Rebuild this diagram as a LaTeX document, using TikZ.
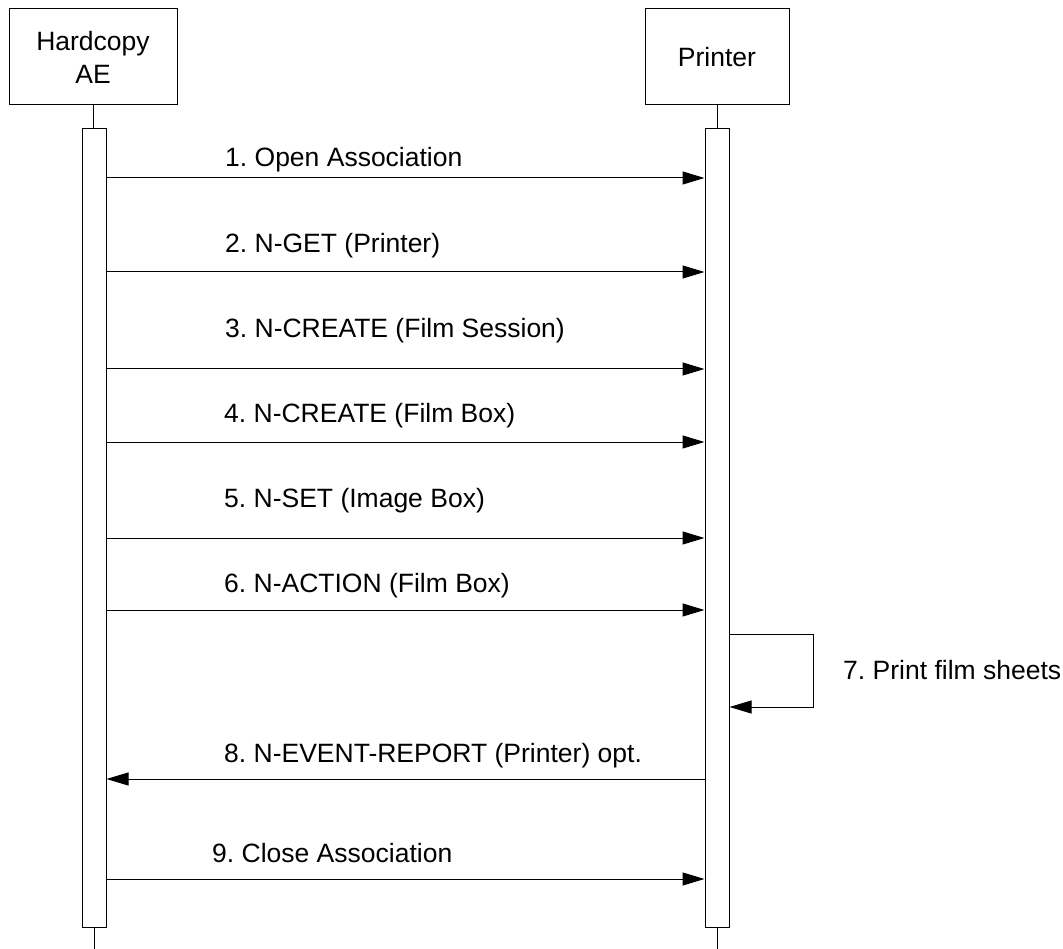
\documentclass[tikz,border=0pt]{standalone}
\usepackage{fontspec}
\setmainfont{Liberation Sans}
\usetikzlibrary{arrows.meta}
\frenchspacing
\begin{document}
\begin{tikzpicture}[x=1pt,y=-1pt,
  every node/.style={font=\fontsize{26.5}{33}\selectfont\frenchspacing},
  actor/.style={draw=black,line width=1pt,minimum height=96pt,inner sep=0pt,align=center},
  bar/.style={draw=black,line width=1pt,minimum width=24pt,minimum height=798pt,inner sep=0pt,fill=white},
  life/.style={draw=black,line width=1pt},
  msg/.style={draw=black,line width=1pt,-{Triangle[length=22pt,width=13pt]}},
  lbl/.style={anchor=base west,inner sep=0pt}]
\useasboundingbox (0,0) rectangle (1063,949);
% actors
\node[actor,minimum width=168pt] (hc) at (93,57) {Hardcopy\\AE};
\node[actor,minimum width=144pt] (pr) at (717,57) {Printer};
% activation bars
\node[bar] (barA) at (94,528) {};
\node[bar] (barB) at (717,528) {};
% lifelines
\coordinate (bot) at (0,949);
\draw[life] (hc.south) -- (barA.north -| hc.south);
\draw[life] (pr.south) -- (barB.north -| pr.south);
\draw[life] (barA.south) -- (barA.south |- bot);
\draw[life] (barB.south) -- (barB.south |- bot);
% message y levels
\coordinate (y1) at (0,178);
\coordinate (y2) at (0,272);
\coordinate (y3) at (0,369);
\coordinate (y4) at (0,442);
\coordinate (y5) at (0,538);
\coordinate (y6) at (0,610);
\coordinate (y7a) at (0,634);
\coordinate (y7b) at (0,707);
\coordinate (y8) at (0,779);
\coordinate (y9) at (0,879);
\coordinate (loopx) at (813,0);
% messages
\draw[msg] (barA.east |- y1) -- (barB.west |- y1);
\draw[msg] (barA.east |- y2) -- (barB.west |- y2);
\draw[msg] (barA.east |- y3) -- (barB.west |- y3);
\draw[msg] (barA.east |- y4) -- (barB.west |- y4);
\draw[msg] (barA.east |- y5) -- (barB.west |- y5);
\draw[msg] (barA.east |- y6) -- (barB.west |- y6);
\draw[msg] (barB.east |- y7a) -- (loopx |- y7a) -- (loopx |- y7b) -- (barB.east |- y7b);
\draw[msg] (barB.west |- y8) -- (barA.east |- y8);
\draw[msg] (barA.east |- y9) -- (barB.west |- y9);
% labels
\node[lbl] (l1) at (225,167) {1. Open Association};
\node[lbl] (l2) at (225,253) {2. N-GET (Printer)};
\node[lbl] (l3) at (225,338) {3. N-CREATE (Film Session)};
\node[lbl] (l4) at (224,423) {4. N-CREATE (Film Box)};
\node[lbl] (l5) at (224,507) {5. N-SET (Image Box)};
\node[lbl] (l6) at (224,592) {6. N-ACTION (Film Box)};
\node[lbl] (l7) at (843,679) {7. Print film sheets};
\node[lbl] (l8) at (224,762) {8. N-EVENT-REPORT (Printer) opt.};
\node[lbl] (l9) at (212,862) {9. Close Association};
\end{tikzpicture}
\end{document}
